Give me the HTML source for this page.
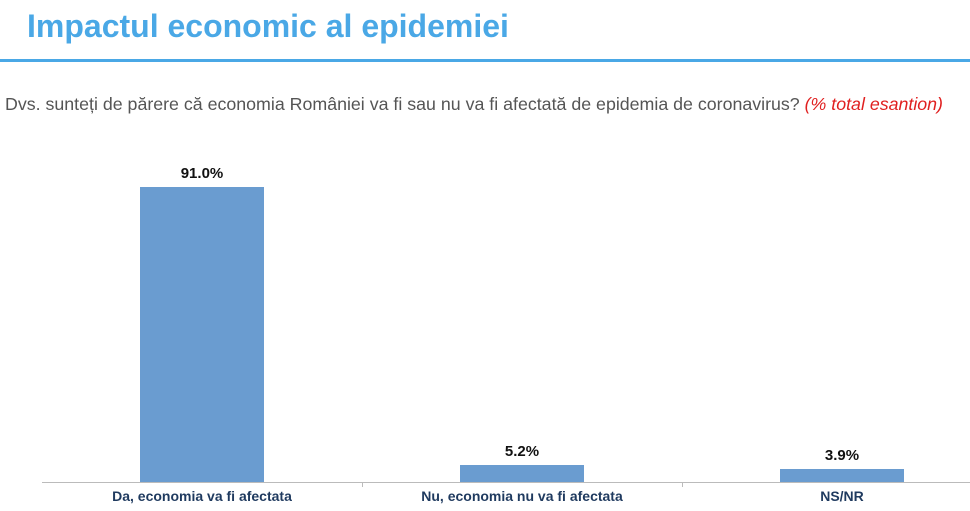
<!DOCTYPE html><html><head><style>
body{margin:0;width:970px;height:511px;background:#fff;position:relative;overflow:hidden;font-family:"Liberation Sans",sans-serif}
div{position:absolute}
.b{background:#6a9cd0}
.v{font-weight:bold;font-size:15px;color:#111;width:124px;text-align:center}
.l{font-weight:bold;font-size:14px;color:#1f3a5f;width:320px;text-align:center;top:488px}
</style></head><body>
<div style="left:27px;top:8px;font-size:32px;font-weight:bold;color:#4aa8e6;white-space:nowrap">Impactul economic al epidemiei</div>
<div style="left:0;top:59px;width:970px;height:3px;background:#4aa8e6"></div>
<div style="left:5px;top:94px;font-size:17.8px;color:#555;white-space:nowrap">Dvs. sunteți de părere că economia României va fi sau nu va fi afectată de epidemia de coronavirus? <i style="color:#e02020">(% total esantion)</i></div>
<div class="b" style="left:140px;top:187px;width:124px;height:295px"></div>
<div class="b" style="left:460px;top:465px;width:124px;height:17px"></div>
<div class="b" style="left:780px;top:469px;width:124px;height:13px"></div>
<div class="v" style="left:140px;top:165px">91.0%</div>
<div class="v" style="left:460px;top:443px">5.2%</div>
<div class="v" style="left:780px;top:447px">3.9%</div>
<div style="left:42px;top:482px;width:928px;height:1px;background:#bbb"></div>
<div style="left:362px;top:482px;width:1px;height:5px;background:#bbb"></div>
<div style="left:682px;top:482px;width:1px;height:5px;background:#bbb"></div>
<div class="l" style="left:42px">Da, economia va fi afectata</div>
<div class="l" style="left:362px">Nu, economia nu va fi afectata</div>
<div class="l" style="left:682px">NS/NR</div>
</body></html>
